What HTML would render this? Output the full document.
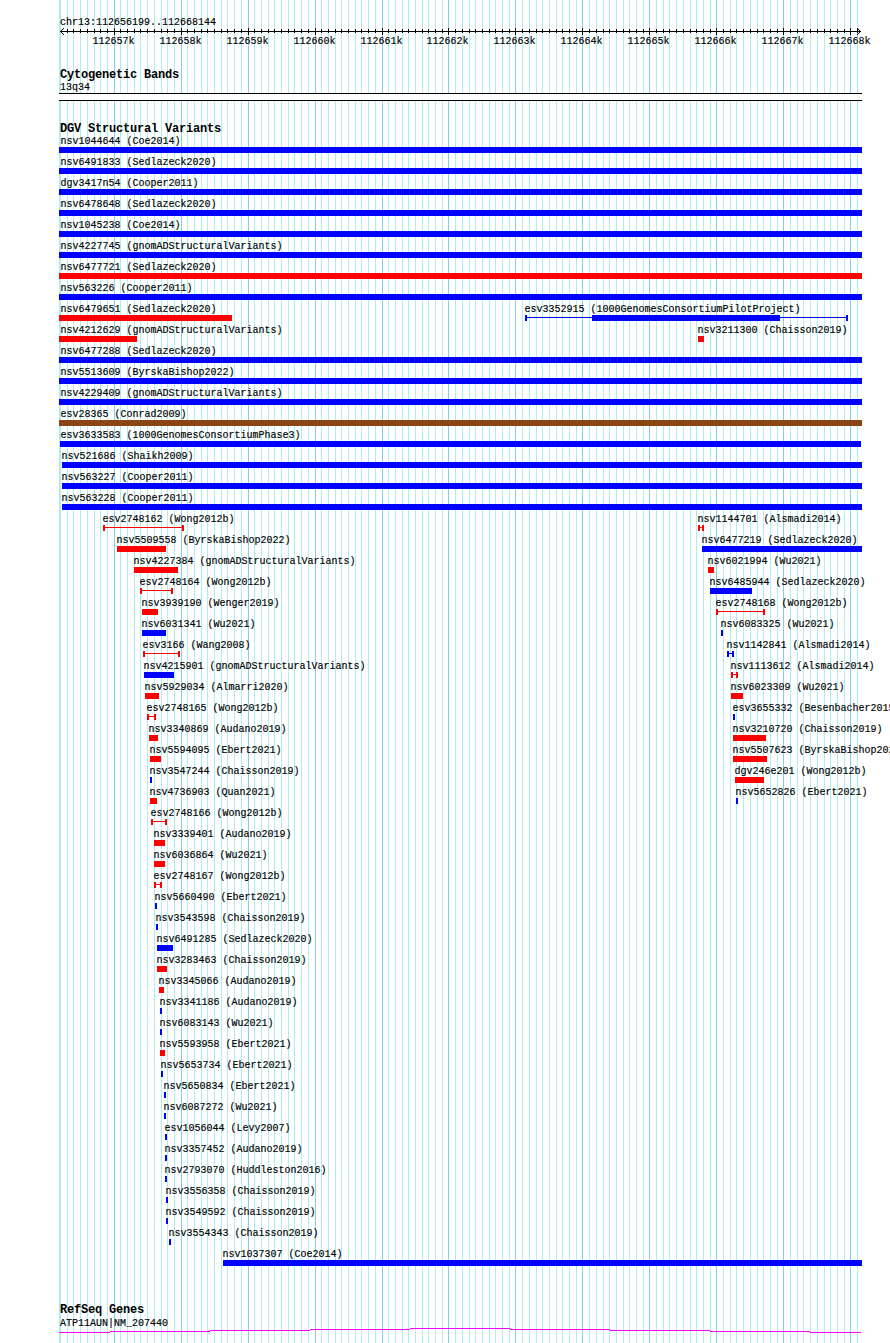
<!DOCTYPE html>
<html><head><meta charset="utf-8"><style>
html,body{margin:0;padding:0;background:#fff;width:890px;height:1343px;overflow:hidden}
svg{display:block}
.t{font-family:"Liberation Mono",monospace;font-size:10px;fill:#000;stroke:#000;stroke-width:0.15px}
.b{font-family:"Liberation Mono",monospace;font-size:12px;letter-spacing:-0.2px;font-weight:bold;fill:#000}
</style></head><body>
<svg width="890" height="1343" viewBox="0 0 890 1343" shape-rendering="crispEdges">
<rect x="60" y="0" width="1" height="1343" fill="#afeeee"/>
<rect x="67" y="0" width="1" height="1343" fill="#afeeee"/>
<rect x="73" y="0" width="1" height="1343" fill="#afeeee"/>
<rect x="80" y="0" width="1" height="1343" fill="#afeeee"/>
<rect x="87" y="0" width="1" height="1343" fill="#afeeee"/>
<rect x="94" y="0" width="1" height="1343" fill="#afeeee"/>
<rect x="100" y="0" width="1" height="1343" fill="#afeeee"/>
<rect x="107" y="0" width="1" height="1343" fill="#afeeee"/>
<rect x="114" y="0" width="1" height="1343" fill="#87ceeb"/>
<rect x="120" y="0" width="1" height="1343" fill="#afeeee"/>
<rect x="127" y="0" width="1" height="1343" fill="#afeeee"/>
<rect x="134" y="0" width="1" height="1343" fill="#afeeee"/>
<rect x="140" y="0" width="1" height="1343" fill="#afeeee"/>
<rect x="147" y="0" width="1" height="1343" fill="#afeeee"/>
<rect x="154" y="0" width="1" height="1343" fill="#afeeee"/>
<rect x="161" y="0" width="1" height="1343" fill="#afeeee"/>
<rect x="167" y="0" width="1" height="1343" fill="#afeeee"/>
<rect x="174" y="0" width="1" height="1343" fill="#afeeee"/>
<rect x="181" y="0" width="1" height="1343" fill="#87ceeb"/>
<rect x="187" y="0" width="1" height="1343" fill="#afeeee"/>
<rect x="194" y="0" width="1" height="1343" fill="#afeeee"/>
<rect x="201" y="0" width="1" height="1343" fill="#afeeee"/>
<rect x="207" y="0" width="1" height="1343" fill="#afeeee"/>
<rect x="214" y="0" width="1" height="1343" fill="#afeeee"/>
<rect x="221" y="0" width="1" height="1343" fill="#afeeee"/>
<rect x="227" y="0" width="1" height="1343" fill="#afeeee"/>
<rect x="234" y="0" width="1" height="1343" fill="#afeeee"/>
<rect x="241" y="0" width="1" height="1343" fill="#afeeee"/>
<rect x="248" y="0" width="1" height="1343" fill="#87ceeb"/>
<rect x="254" y="0" width="1" height="1343" fill="#afeeee"/>
<rect x="261" y="0" width="1" height="1343" fill="#afeeee"/>
<rect x="268" y="0" width="1" height="1343" fill="#afeeee"/>
<rect x="274" y="0" width="1" height="1343" fill="#afeeee"/>
<rect x="281" y="0" width="1" height="1343" fill="#afeeee"/>
<rect x="288" y="0" width="1" height="1343" fill="#afeeee"/>
<rect x="294" y="0" width="1" height="1343" fill="#afeeee"/>
<rect x="301" y="0" width="1" height="1343" fill="#afeeee"/>
<rect x="308" y="0" width="1" height="1343" fill="#afeeee"/>
<rect x="315" y="0" width="1" height="1343" fill="#87ceeb"/>
<rect x="321" y="0" width="1" height="1343" fill="#afeeee"/>
<rect x="328" y="0" width="1" height="1343" fill="#afeeee"/>
<rect x="335" y="0" width="1" height="1343" fill="#afeeee"/>
<rect x="341" y="0" width="1" height="1343" fill="#afeeee"/>
<rect x="348" y="0" width="1" height="1343" fill="#afeeee"/>
<rect x="355" y="0" width="1" height="1343" fill="#afeeee"/>
<rect x="361" y="0" width="1" height="1343" fill="#afeeee"/>
<rect x="368" y="0" width="1" height="1343" fill="#afeeee"/>
<rect x="375" y="0" width="1" height="1343" fill="#afeeee"/>
<rect x="382" y="0" width="1" height="1343" fill="#87ceeb"/>
<rect x="388" y="0" width="1" height="1343" fill="#afeeee"/>
<rect x="395" y="0" width="1" height="1343" fill="#afeeee"/>
<rect x="402" y="0" width="1" height="1343" fill="#afeeee"/>
<rect x="408" y="0" width="1" height="1343" fill="#afeeee"/>
<rect x="415" y="0" width="1" height="1343" fill="#afeeee"/>
<rect x="422" y="0" width="1" height="1343" fill="#afeeee"/>
<rect x="428" y="0" width="1" height="1343" fill="#afeeee"/>
<rect x="435" y="0" width="1" height="1343" fill="#afeeee"/>
<rect x="442" y="0" width="1" height="1343" fill="#afeeee"/>
<rect x="448" y="0" width="1" height="1343" fill="#87ceeb"/>
<rect x="455" y="0" width="1" height="1343" fill="#afeeee"/>
<rect x="462" y="0" width="1" height="1343" fill="#afeeee"/>
<rect x="469" y="0" width="1" height="1343" fill="#afeeee"/>
<rect x="475" y="0" width="1" height="1343" fill="#afeeee"/>
<rect x="482" y="0" width="1" height="1343" fill="#afeeee"/>
<rect x="489" y="0" width="1" height="1343" fill="#afeeee"/>
<rect x="495" y="0" width="1" height="1343" fill="#afeeee"/>
<rect x="502" y="0" width="1" height="1343" fill="#afeeee"/>
<rect x="509" y="0" width="1" height="1343" fill="#afeeee"/>
<rect x="515" y="0" width="1" height="1343" fill="#87ceeb"/>
<rect x="522" y="0" width="1" height="1343" fill="#afeeee"/>
<rect x="529" y="0" width="1" height="1343" fill="#afeeee"/>
<rect x="536" y="0" width="1" height="1343" fill="#afeeee"/>
<rect x="542" y="0" width="1" height="1343" fill="#afeeee"/>
<rect x="549" y="0" width="1" height="1343" fill="#afeeee"/>
<rect x="556" y="0" width="1" height="1343" fill="#afeeee"/>
<rect x="562" y="0" width="1" height="1343" fill="#afeeee"/>
<rect x="569" y="0" width="1" height="1343" fill="#afeeee"/>
<rect x="576" y="0" width="1" height="1343" fill="#afeeee"/>
<rect x="582" y="0" width="1" height="1343" fill="#87ceeb"/>
<rect x="589" y="0" width="1" height="1343" fill="#afeeee"/>
<rect x="596" y="0" width="1" height="1343" fill="#afeeee"/>
<rect x="603" y="0" width="1" height="1343" fill="#afeeee"/>
<rect x="609" y="0" width="1" height="1343" fill="#afeeee"/>
<rect x="616" y="0" width="1" height="1343" fill="#afeeee"/>
<rect x="623" y="0" width="1" height="1343" fill="#afeeee"/>
<rect x="629" y="0" width="1" height="1343" fill="#afeeee"/>
<rect x="636" y="0" width="1" height="1343" fill="#afeeee"/>
<rect x="643" y="0" width="1" height="1343" fill="#afeeee"/>
<rect x="649" y="0" width="1" height="1343" fill="#87ceeb"/>
<rect x="656" y="0" width="1" height="1343" fill="#afeeee"/>
<rect x="663" y="0" width="1" height="1343" fill="#afeeee"/>
<rect x="669" y="0" width="1" height="1343" fill="#afeeee"/>
<rect x="676" y="0" width="1" height="1343" fill="#afeeee"/>
<rect x="683" y="0" width="1" height="1343" fill="#afeeee"/>
<rect x="690" y="0" width="1" height="1343" fill="#afeeee"/>
<rect x="696" y="0" width="1" height="1343" fill="#afeeee"/>
<rect x="703" y="0" width="1" height="1343" fill="#afeeee"/>
<rect x="710" y="0" width="1" height="1343" fill="#afeeee"/>
<rect x="716" y="0" width="1" height="1343" fill="#87ceeb"/>
<rect x="723" y="0" width="1" height="1343" fill="#afeeee"/>
<rect x="730" y="0" width="1" height="1343" fill="#afeeee"/>
<rect x="736" y="0" width="1" height="1343" fill="#afeeee"/>
<rect x="743" y="0" width="1" height="1343" fill="#afeeee"/>
<rect x="750" y="0" width="1" height="1343" fill="#afeeee"/>
<rect x="757" y="0" width="1" height="1343" fill="#afeeee"/>
<rect x="763" y="0" width="1" height="1343" fill="#afeeee"/>
<rect x="770" y="0" width="1" height="1343" fill="#afeeee"/>
<rect x="777" y="0" width="1" height="1343" fill="#afeeee"/>
<rect x="783" y="0" width="1" height="1343" fill="#87ceeb"/>
<rect x="790" y="0" width="1" height="1343" fill="#afeeee"/>
<rect x="797" y="0" width="1" height="1343" fill="#afeeee"/>
<rect x="803" y="0" width="1" height="1343" fill="#afeeee"/>
<rect x="810" y="0" width="1" height="1343" fill="#afeeee"/>
<rect x="817" y="0" width="1" height="1343" fill="#afeeee"/>
<rect x="824" y="0" width="1" height="1343" fill="#afeeee"/>
<rect x="830" y="0" width="1" height="1343" fill="#afeeee"/>
<rect x="837" y="0" width="1" height="1343" fill="#afeeee"/>
<rect x="844" y="0" width="1" height="1343" fill="#afeeee"/>
<rect x="850" y="0" width="1" height="1343" fill="#87ceeb"/>
<rect x="857" y="0" width="1" height="1343" fill="#afeeee"/>
<rect x="59" y="0" width="2" height="1343" fill="#afeeee"/>
<text x="60" y="25" class="t">chr13:112656199..112668144</text>
<rect x="60" y="31" width="801" height="1" fill="#000"/>
<rect x="67" y="29" width="1" height="4" fill="#000"/>
<rect x="73" y="29" width="1" height="4" fill="#000"/>
<rect x="80" y="29" width="1" height="4" fill="#000"/>
<rect x="87" y="29" width="1" height="4" fill="#000"/>
<rect x="94" y="29" width="1" height="4" fill="#000"/>
<rect x="100" y="29" width="1" height="4" fill="#000"/>
<rect x="107" y="29" width="1" height="4" fill="#000"/>
<rect x="114" y="28" width="1" height="7" fill="#000"/>
<text x="113.5" y="44" class="t" text-anchor="middle">112657k</text>
<rect x="120" y="29" width="1" height="4" fill="#000"/>
<rect x="127" y="29" width="1" height="4" fill="#000"/>
<rect x="134" y="29" width="1" height="4" fill="#000"/>
<rect x="140" y="29" width="1" height="4" fill="#000"/>
<rect x="147" y="29" width="1" height="4" fill="#000"/>
<rect x="154" y="29" width="1" height="4" fill="#000"/>
<rect x="161" y="29" width="1" height="4" fill="#000"/>
<rect x="167" y="29" width="1" height="4" fill="#000"/>
<rect x="174" y="29" width="1" height="4" fill="#000"/>
<rect x="181" y="28" width="1" height="7" fill="#000"/>
<text x="180.5" y="44" class="t" text-anchor="middle">112658k</text>
<rect x="187" y="29" width="1" height="4" fill="#000"/>
<rect x="194" y="29" width="1" height="4" fill="#000"/>
<rect x="201" y="29" width="1" height="4" fill="#000"/>
<rect x="207" y="29" width="1" height="4" fill="#000"/>
<rect x="214" y="29" width="1" height="4" fill="#000"/>
<rect x="221" y="29" width="1" height="4" fill="#000"/>
<rect x="227" y="29" width="1" height="4" fill="#000"/>
<rect x="234" y="29" width="1" height="4" fill="#000"/>
<rect x="241" y="29" width="1" height="4" fill="#000"/>
<rect x="248" y="28" width="1" height="7" fill="#000"/>
<text x="247.5" y="44" class="t" text-anchor="middle">112659k</text>
<rect x="254" y="29" width="1" height="4" fill="#000"/>
<rect x="261" y="29" width="1" height="4" fill="#000"/>
<rect x="268" y="29" width="1" height="4" fill="#000"/>
<rect x="274" y="29" width="1" height="4" fill="#000"/>
<rect x="281" y="29" width="1" height="4" fill="#000"/>
<rect x="288" y="29" width="1" height="4" fill="#000"/>
<rect x="294" y="29" width="1" height="4" fill="#000"/>
<rect x="301" y="29" width="1" height="4" fill="#000"/>
<rect x="308" y="29" width="1" height="4" fill="#000"/>
<rect x="315" y="28" width="1" height="7" fill="#000"/>
<text x="314.5" y="44" class="t" text-anchor="middle">112660k</text>
<rect x="321" y="29" width="1" height="4" fill="#000"/>
<rect x="328" y="29" width="1" height="4" fill="#000"/>
<rect x="335" y="29" width="1" height="4" fill="#000"/>
<rect x="341" y="29" width="1" height="4" fill="#000"/>
<rect x="348" y="29" width="1" height="4" fill="#000"/>
<rect x="355" y="29" width="1" height="4" fill="#000"/>
<rect x="361" y="29" width="1" height="4" fill="#000"/>
<rect x="368" y="29" width="1" height="4" fill="#000"/>
<rect x="375" y="29" width="1" height="4" fill="#000"/>
<rect x="382" y="28" width="1" height="7" fill="#000"/>
<text x="381.5" y="44" class="t" text-anchor="middle">112661k</text>
<rect x="388" y="29" width="1" height="4" fill="#000"/>
<rect x="395" y="29" width="1" height="4" fill="#000"/>
<rect x="402" y="29" width="1" height="4" fill="#000"/>
<rect x="408" y="29" width="1" height="4" fill="#000"/>
<rect x="415" y="29" width="1" height="4" fill="#000"/>
<rect x="422" y="29" width="1" height="4" fill="#000"/>
<rect x="428" y="29" width="1" height="4" fill="#000"/>
<rect x="435" y="29" width="1" height="4" fill="#000"/>
<rect x="442" y="29" width="1" height="4" fill="#000"/>
<rect x="448" y="28" width="1" height="7" fill="#000"/>
<text x="447.5" y="44" class="t" text-anchor="middle">112662k</text>
<rect x="455" y="29" width="1" height="4" fill="#000"/>
<rect x="462" y="29" width="1" height="4" fill="#000"/>
<rect x="469" y="29" width="1" height="4" fill="#000"/>
<rect x="475" y="29" width="1" height="4" fill="#000"/>
<rect x="482" y="29" width="1" height="4" fill="#000"/>
<rect x="489" y="29" width="1" height="4" fill="#000"/>
<rect x="495" y="29" width="1" height="4" fill="#000"/>
<rect x="502" y="29" width="1" height="4" fill="#000"/>
<rect x="509" y="29" width="1" height="4" fill="#000"/>
<rect x="515" y="28" width="1" height="7" fill="#000"/>
<text x="514.5" y="44" class="t" text-anchor="middle">112663k</text>
<rect x="522" y="29" width="1" height="4" fill="#000"/>
<rect x="529" y="29" width="1" height="4" fill="#000"/>
<rect x="536" y="29" width="1" height="4" fill="#000"/>
<rect x="542" y="29" width="1" height="4" fill="#000"/>
<rect x="549" y="29" width="1" height="4" fill="#000"/>
<rect x="556" y="29" width="1" height="4" fill="#000"/>
<rect x="562" y="29" width="1" height="4" fill="#000"/>
<rect x="569" y="29" width="1" height="4" fill="#000"/>
<rect x="576" y="29" width="1" height="4" fill="#000"/>
<rect x="582" y="28" width="1" height="7" fill="#000"/>
<text x="581.5" y="44" class="t" text-anchor="middle">112664k</text>
<rect x="589" y="29" width="1" height="4" fill="#000"/>
<rect x="596" y="29" width="1" height="4" fill="#000"/>
<rect x="603" y="29" width="1" height="4" fill="#000"/>
<rect x="609" y="29" width="1" height="4" fill="#000"/>
<rect x="616" y="29" width="1" height="4" fill="#000"/>
<rect x="623" y="29" width="1" height="4" fill="#000"/>
<rect x="629" y="29" width="1" height="4" fill="#000"/>
<rect x="636" y="29" width="1" height="4" fill="#000"/>
<rect x="643" y="29" width="1" height="4" fill="#000"/>
<rect x="649" y="28" width="1" height="7" fill="#000"/>
<text x="648.5" y="44" class="t" text-anchor="middle">112665k</text>
<rect x="656" y="29" width="1" height="4" fill="#000"/>
<rect x="663" y="29" width="1" height="4" fill="#000"/>
<rect x="669" y="29" width="1" height="4" fill="#000"/>
<rect x="676" y="29" width="1" height="4" fill="#000"/>
<rect x="683" y="29" width="1" height="4" fill="#000"/>
<rect x="690" y="29" width="1" height="4" fill="#000"/>
<rect x="696" y="29" width="1" height="4" fill="#000"/>
<rect x="703" y="29" width="1" height="4" fill="#000"/>
<rect x="710" y="29" width="1" height="4" fill="#000"/>
<rect x="716" y="28" width="1" height="7" fill="#000"/>
<text x="715.5" y="44" class="t" text-anchor="middle">112666k</text>
<rect x="723" y="29" width="1" height="4" fill="#000"/>
<rect x="730" y="29" width="1" height="4" fill="#000"/>
<rect x="736" y="29" width="1" height="4" fill="#000"/>
<rect x="743" y="29" width="1" height="4" fill="#000"/>
<rect x="750" y="29" width="1" height="4" fill="#000"/>
<rect x="757" y="29" width="1" height="4" fill="#000"/>
<rect x="763" y="29" width="1" height="4" fill="#000"/>
<rect x="770" y="29" width="1" height="4" fill="#000"/>
<rect x="777" y="29" width="1" height="4" fill="#000"/>
<rect x="783" y="28" width="1" height="7" fill="#000"/>
<text x="782.5" y="44" class="t" text-anchor="middle">112667k</text>
<rect x="790" y="29" width="1" height="4" fill="#000"/>
<rect x="797" y="29" width="1" height="4" fill="#000"/>
<rect x="803" y="29" width="1" height="4" fill="#000"/>
<rect x="810" y="29" width="1" height="4" fill="#000"/>
<rect x="817" y="29" width="1" height="4" fill="#000"/>
<rect x="824" y="29" width="1" height="4" fill="#000"/>
<rect x="830" y="29" width="1" height="4" fill="#000"/>
<rect x="837" y="29" width="1" height="4" fill="#000"/>
<rect x="844" y="29" width="1" height="4" fill="#000"/>
<rect x="850" y="28" width="1" height="7" fill="#000"/>
<text x="849.5" y="44" class="t" text-anchor="middle">112668k</text>
<rect x="857" y="29" width="1" height="4" fill="#000"/>
<rect x="61" y="30" width="1" height="1" fill="#000"/>
<rect x="61" y="32" width="1" height="1" fill="#000"/>
<rect x="859" y="30" width="1" height="1" fill="#000"/>
<rect x="859" y="32" width="1" height="1" fill="#000"/>
<rect x="62" y="29" width="1" height="1" fill="#000"/>
<rect x="62" y="33" width="1" height="1" fill="#000"/>
<rect x="858" y="29" width="1" height="1" fill="#000"/>
<rect x="858" y="33" width="1" height="1" fill="#000"/>
<rect x="63" y="28" width="1" height="1" fill="#000"/>
<rect x="63" y="34" width="1" height="1" fill="#000"/>
<rect x="857" y="28" width="1" height="1" fill="#000"/>
<rect x="857" y="34" width="1" height="1" fill="#000"/>
<text x="60" y="78" class="b">Cytogenetic Bands</text>
<text x="60" y="90" class="t">13q34</text>
<rect x="59" y="93" width="803" height="8" fill="#fff"/>
<rect x="59" y="93" width="803" height="1" fill="#000"/>
<rect x="59" y="100" width="803" height="1" fill="#000"/>
<text x="60" y="132" class="b">DGV Structural Variants</text>
<text x="60.5" y="144" class="t">nsv1044644 (Coe2014)</text>
<rect x="59" y="147" width="803" height="6" fill="#0000ff"/>
<text x="60.5" y="165" class="t">nsv6491833 (Sedlazeck2020)</text>
<rect x="59" y="168" width="803" height="6" fill="#0000ff"/>
<text x="60.5" y="186" class="t">dgv3417n54 (Cooper2011)</text>
<rect x="59" y="189" width="803" height="6" fill="#0000ff"/>
<text x="60.5" y="207" class="t">nsv6478648 (Sedlazeck2020)</text>
<rect x="59" y="210" width="803" height="6" fill="#0000ff"/>
<text x="60.5" y="228" class="t">nsv1045238 (Coe2014)</text>
<rect x="59" y="231" width="803" height="6" fill="#0000ff"/>
<text x="60.5" y="249" class="t">nsv4227745 (gnomADStructuralVariants)</text>
<rect x="59" y="252" width="803" height="6" fill="#0000ff"/>
<text x="60.5" y="270" class="t">nsv6477721 (Sedlazeck2020)</text>
<rect x="59" y="273" width="803" height="6" fill="#ff0000"/>
<text x="60.5" y="291" class="t">nsv563226 (Cooper2011)</text>
<rect x="59" y="294" width="803" height="6" fill="#0000ff"/>
<text x="60.5" y="312" class="t">nsv6479651 (Sedlazeck2020)</text>
<rect x="59" y="315" width="173" height="6" fill="#ff0000"/>
<text x="524.5" y="312" class="t">esv3352915 (1000GenomesConsortiumPilotProject)</text>
<rect x="525" y="315" width="2" height="6" fill="#0000ff"/>
<rect x="846" y="315" width="2" height="6" fill="#0000ff"/>
<rect x="525" y="317" width="323" height="1" fill="#0000ff"/>
<rect x="592" y="315" width="188" height="6" fill="#0000ff"/>
<text x="60.5" y="333" class="t">nsv4212629 (gnomADStructuralVariants)</text>
<rect x="59" y="336" width="78" height="6" fill="#ff0000"/>
<text x="697.5" y="333" class="t">nsv3211300 (Chaisson2019)</text>
<rect x="698" y="336" width="6" height="6" fill="#ff0000"/>
<text x="60.5" y="354" class="t">nsv6477288 (Sedlazeck2020)</text>
<rect x="59" y="357" width="803" height="6" fill="#0000ff"/>
<text x="60.5" y="375" class="t">nsv5513609 (ByrskaBishop2022)</text>
<rect x="59" y="378" width="803" height="6" fill="#0000ff"/>
<text x="60.5" y="396" class="t">nsv4229409 (gnomADStructuralVariants)</text>
<rect x="59" y="399" width="803" height="6" fill="#0000ff"/>
<text x="60.5" y="417" class="t">esv28365 (Conrad2009)</text>
<rect x="59" y="420" width="803" height="6" fill="#8b4513"/>
<text x="60.5" y="438" class="t">esv3633583 (1000GenomesConsortiumPhase3)</text>
<rect x="60" y="441" width="801" height="6" fill="#0000ff"/>
<text x="61.5" y="459" class="t">nsv521686 (Shaikh2009)</text>
<rect x="62" y="462" width="800" height="6" fill="#0000ff"/>
<text x="61.5" y="480" class="t">nsv563227 (Cooper2011)</text>
<rect x="62" y="483" width="800" height="6" fill="#0000ff"/>
<text x="61.5" y="501" class="t">nsv563228 (Cooper2011)</text>
<rect x="62" y="504" width="800" height="6" fill="#0000ff"/>
<text x="102.5" y="522" class="t">esv2748162 (Wong2012b)</text>
<rect x="103" y="525" width="2" height="6" fill="#ff0000"/>
<rect x="182" y="525" width="2" height="6" fill="#ff0000"/>
<rect x="103" y="527" width="81" height="1" fill="#ff0000"/>
<text x="116.5" y="543" class="t">nsv5509558 (ByrskaBishop2022)</text>
<rect x="117" y="546" width="49" height="6" fill="#ff0000"/>
<text x="133.5" y="564" class="t">nsv4227384 (gnomADStructuralVariants)</text>
<rect x="134" y="567" width="44" height="6" fill="#ff0000"/>
<text x="139.5" y="585" class="t">esv2748164 (Wong2012b)</text>
<rect x="140" y="588" width="2" height="6" fill="#ff0000"/>
<rect x="171" y="588" width="2" height="6" fill="#ff0000"/>
<rect x="140" y="590" width="33" height="1" fill="#ff0000"/>
<text x="141.5" y="606" class="t">nsv3939190 (Wenger2019)</text>
<rect x="142" y="609" width="16" height="6" fill="#ff0000"/>
<text x="141.5" y="627" class="t">nsv6031341 (Wu2021)</text>
<rect x="142" y="630" width="24" height="6" fill="#0000ff"/>
<text x="142.5" y="648" class="t">esv3166 (Wang2008)</text>
<rect x="143" y="651" width="2" height="6" fill="#ff0000"/>
<rect x="178" y="651" width="2" height="6" fill="#ff0000"/>
<rect x="143" y="653" width="37" height="1" fill="#ff0000"/>
<text x="143.5" y="669" class="t">nsv4215901 (gnomADStructuralVariants)</text>
<rect x="144" y="672" width="30" height="6" fill="#0000ff"/>
<text x="144.5" y="690" class="t">nsv5929034 (Almarri2020)</text>
<rect x="145" y="693" width="14" height="6" fill="#ff0000"/>
<text x="146.5" y="711" class="t">esv2748165 (Wong2012b)</text>
<rect x="147" y="714" width="2" height="6" fill="#ff0000"/>
<rect x="154" y="714" width="2" height="6" fill="#ff0000"/>
<rect x="147" y="716" width="9" height="1" fill="#ff0000"/>
<text x="148.5" y="732" class="t">nsv3340869 (Audano2019)</text>
<rect x="149" y="735" width="9" height="6" fill="#ff0000"/>
<text x="149.5" y="753" class="t">nsv5594095 (Ebert2021)</text>
<rect x="150" y="756" width="11" height="6" fill="#ff0000"/>
<text x="149.5" y="774" class="t">nsv3547244 (Chaisson2019)</text>
<rect x="150" y="777" width="2" height="6" fill="#0000ff"/>
<text x="149.5" y="795" class="t">nsv4736903 (Quan2021)</text>
<rect x="150" y="798" width="7" height="6" fill="#ff0000"/>
<text x="150.5" y="816" class="t">esv2748166 (Wong2012b)</text>
<rect x="151" y="819" width="2" height="6" fill="#ff0000"/>
<rect x="165" y="819" width="2" height="6" fill="#ff0000"/>
<rect x="151" y="821" width="16" height="1" fill="#ff0000"/>
<text x="153.5" y="837" class="t">nsv3339401 (Audano2019)</text>
<rect x="154" y="840" width="11" height="6" fill="#ff0000"/>
<text x="153.5" y="858" class="t">nsv6036864 (Wu2021)</text>
<rect x="154" y="861" width="11" height="6" fill="#ff0000"/>
<text x="153.5" y="879" class="t">esv2748167 (Wong2012b)</text>
<rect x="154" y="882" width="2" height="6" fill="#ff0000"/>
<rect x="160" y="882" width="2" height="6" fill="#ff0000"/>
<rect x="154" y="884" width="8" height="1" fill="#ff0000"/>
<text x="154.5" y="900" class="t">nsv5660490 (Ebert2021)</text>
<rect x="155" y="903" width="2" height="6" fill="#0000ff"/>
<text x="155.5" y="921" class="t">nsv3543598 (Chaisson2019)</text>
<rect x="156" y="924" width="2" height="6" fill="#0000ff"/>
<text x="156.5" y="942" class="t">nsv6491285 (Sedlazeck2020)</text>
<rect x="157" y="945" width="16" height="6" fill="#0000ff"/>
<text x="156.5" y="963" class="t">nsv3283463 (Chaisson2019)</text>
<rect x="157" y="966" width="10" height="6" fill="#ff0000"/>
<text x="158.5" y="984" class="t">nsv3345066 (Audano2019)</text>
<rect x="159" y="987" width="5" height="6" fill="#ff0000"/>
<text x="159.5" y="1005" class="t">nsv3341186 (Audano2019)</text>
<rect x="160" y="1008" width="2" height="6" fill="#0000ff"/>
<text x="159.5" y="1026" class="t">nsv6083143 (Wu2021)</text>
<rect x="160" y="1029" width="2" height="6" fill="#0000ff"/>
<text x="159.5" y="1047" class="t">nsv5593958 (Ebert2021)</text>
<rect x="160" y="1050" width="5" height="6" fill="#ff0000"/>
<text x="160.5" y="1068" class="t">nsv5653734 (Ebert2021)</text>
<rect x="161" y="1071" width="2" height="6" fill="#0000ff"/>
<text x="163.5" y="1089" class="t">nsv5650834 (Ebert2021)</text>
<rect x="164" y="1092" width="2" height="6" fill="#0000ff"/>
<text x="163.5" y="1110" class="t">nsv6087272 (Wu2021)</text>
<rect x="164" y="1113" width="2" height="6" fill="#0000ff"/>
<text x="164.5" y="1131" class="t">esv1056044 (Levy2007)</text>
<rect x="165" y="1134" width="2" height="6" fill="#0000ff"/>
<text x="164.5" y="1152" class="t">nsv3357452 (Audano2019)</text>
<rect x="165" y="1155" width="2" height="6" fill="#0000ff"/>
<text x="164.5" y="1173" class="t">nsv2793070 (Huddleston2016)</text>
<rect x="165" y="1176" width="2" height="6" fill="#0000ff"/>
<text x="165.5" y="1194" class="t">nsv3556358 (Chaisson2019)</text>
<rect x="166" y="1197" width="2" height="6" fill="#0000ff"/>
<text x="165.5" y="1215" class="t">nsv3549592 (Chaisson2019)</text>
<rect x="166" y="1218" width="2" height="6" fill="#0000ff"/>
<text x="168.5" y="1236" class="t">nsv3554343 (Chaisson2019)</text>
<rect x="169" y="1239" width="2" height="6" fill="#0000ff"/>
<text x="222.5" y="1257" class="t">nsv1037307 (Coe2014)</text>
<rect x="223" y="1260" width="639" height="6" fill="#0000ff"/>
<text x="697.5" y="522" class="t">nsv1144701 (Alsmadi2014)</text>
<rect x="698" y="525" width="2" height="6" fill="#ff0000"/>
<rect x="702" y="525" width="2" height="6" fill="#ff0000"/>
<rect x="698" y="527" width="6" height="1" fill="#ff0000"/>
<text x="701.5" y="543" class="t">nsv6477219 (Sedlazeck2020)</text>
<rect x="702" y="546" width="160" height="6" fill="#0000ff"/>
<text x="707.5" y="564" class="t">nsv6021994 (Wu2021)</text>
<rect x="708" y="567" width="6" height="6" fill="#ff0000"/>
<text x="709.5" y="585" class="t">nsv6485944 (Sedlazeck2020)</text>
<rect x="710" y="588" width="42" height="6" fill="#0000ff"/>
<text x="715.5" y="606" class="t">esv2748168 (Wong2012b)</text>
<rect x="716" y="609" width="2" height="6" fill="#ff0000"/>
<rect x="763" y="609" width="2" height="6" fill="#ff0000"/>
<rect x="716" y="611" width="49" height="1" fill="#ff0000"/>
<text x="720.5" y="627" class="t">nsv6083325 (Wu2021)</text>
<rect x="721" y="630" width="2" height="6" fill="#0000ff"/>
<text x="726.5" y="648" class="t">nsv1142841 (Alsmadi2014)</text>
<rect x="727" y="651" width="2" height="6" fill="#0000ff"/>
<rect x="732" y="651" width="2" height="6" fill="#0000ff"/>
<rect x="727" y="653" width="7" height="1" fill="#0000ff"/>
<text x="730.5" y="669" class="t">nsv1113612 (Alsmadi2014)</text>
<rect x="731" y="672" width="2" height="6" fill="#ff0000"/>
<rect x="736" y="672" width="2" height="6" fill="#ff0000"/>
<rect x="731" y="674" width="7" height="1" fill="#ff0000"/>
<text x="730.5" y="690" class="t">nsv6023309 (Wu2021)</text>
<rect x="731" y="693" width="12" height="6" fill="#ff0000"/>
<text x="732.5" y="711" class="t">esv3655332 (Besenbacher2015)</text>
<rect x="733" y="714" width="2" height="6" fill="#0000ff"/>
<text x="732.5" y="732" class="t">nsv3210720 (Chaisson2019)</text>
<rect x="733" y="735" width="33" height="6" fill="#ff0000"/>
<text x="732.5" y="753" class="t">nsv5507623 (ByrskaBishop2022)</text>
<rect x="733" y="756" width="34" height="6" fill="#ff0000"/>
<text x="734.5" y="774" class="t">dgv246e201 (Wong2012b)</text>
<rect x="735" y="777" width="29" height="6" fill="#ff0000"/>
<text x="735.5" y="795" class="t">nsv5652826 (Ebert2021)</text>
<rect x="736" y="798" width="2" height="6" fill="#0000ff"/>
<text x="60" y="1313" class="b">RefSeq Genes</text>
<text x="60" y="1326" class="t">ATP11AUN|NM_207440</text>
<rect x="59" y="1332" width="51" height="1" fill="#ff00ff"/>
<rect x="110" y="1331" width="100" height="1" fill="#ff00ff"/>
<rect x="210" y="1330" width="100" height="1" fill="#ff00ff"/>
<rect x="310" y="1329" width="100" height="1" fill="#ff00ff"/>
<rect x="410" y="1328" width="100" height="1" fill="#ff00ff"/>
<rect x="510" y="1329" width="100" height="1" fill="#ff00ff"/>
<rect x="610" y="1330" width="100" height="1" fill="#ff00ff"/>
<rect x="710" y="1331" width="100" height="1" fill="#ff00ff"/>
<rect x="810" y="1332" width="51" height="1" fill="#ff00ff"/>
</svg></body></html>
